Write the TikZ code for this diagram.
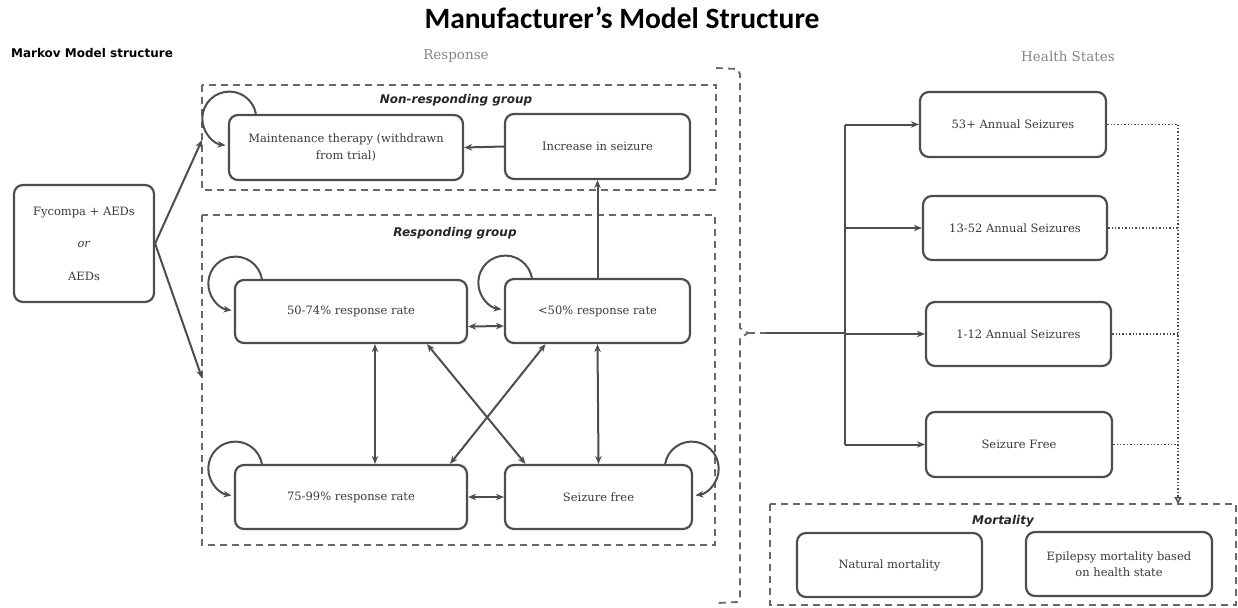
\documentclass[tikz,border=0pt]{standalone}
\usepackage{fontspec}
\setmainfont{DejaVu Serif}
\setsansfont{DejaVu Sans}
\newfontfamily\titlefont{Carlito}
\usetikzlibrary{arrows.meta}
\definecolor{linegray}{HTML}{4D4D4D}
\definecolor{textgray}{HTML}{3A3A3A}
\definecolor{headgray}{HTML}{858585}

\begin{document}
\begin{tikzpicture}[x=1pt,y=1pt,
    state/.style={draw=linegray,line width=2.2pt,rounded corners=9pt,align=center,
        text=textgray,font=\fontsize{11.5}{16.5}\selectfont,inner sep=2pt},
    grp/.style={draw=linegray!85,line width=1.8pt,dash pattern=on 7pt off 5pt},
    grplabel/.style={font=\sffamily\bfseries\itshape\fontsize{12}{14}\selectfont,text=black!85},
    head/.style={font=\fontsize{13.5}{16}\selectfont,text=headgray},
    link/.style={draw=linegray,line width=2pt},
    conn/.style={link,-{Stealth[length=8pt,width=6.5pt]}},
    both/.style={link,{Stealth[length=8pt,width=6.5pt]}-{Stealth[length=8pt,width=6.5pt]}},
    dotline/.style={draw=linegray,line width=1.4pt,dotted}]
    \useasboundingbox (0,0) rectangle (1238,-607);

    % headings
    \node[font=\titlefont\bfseries\fontsize{29.5}{34}\selectfont] (title) at (622,-18) {Manufacturer’s Model Structure};
    \node[font=\sffamily\bfseries\fontsize{12}{14}\selectfont] (markov) at (92,-53) {Markov Model structure};
    \node[head] (resp) at (456,-56) {Response};
    \node[head] (hs) at (1068,-56) {Health States};

    % groups
    \draw[grp] (202,-85) rectangle (716,-190);
    \draw[grp] (202,-215) rectangle (715,-545);
    \draw[grp] (770,-504) rectangle (1236,-605);
    \node[grplabel] (nonlbl) at (456,-100) {Non-responding group};
    \node[grplabel] (reslbl) at (455,-233) {Responding group};
    \node[grplabel] (mortlbl) at (1003,-521) {Mortality};

    % states
    \node[state,minimum width=140pt,minimum height=117pt,font=\fontsize{11.5}{32.5}\selectfont] (start) at (84,-243.5)
        {Fycompa + AEDs\\ \textit{or}\\ AEDs};
    \node[state,minimum width=234pt,minimum height=65pt] (maint) at (346,-147.5)
        {Maintenance therapy (withdrawn\\ from trial)};
    \node[state,minimum width=185pt,minimum height=65pt] (inc) at (597.5,-146.5) {Increase in seizure};
    \node[state,minimum width=232pt,minimum height=63pt] (mid) at (351,-311.5) {50-74\% response rate};
    \node[state,minimum width=185pt,minimum height=64pt] (low) at (597.5,-311) {<50\% response rate};
    \node[state,minimum width=232pt,minimum height=64pt] (high) at (351,-497) {75-99\% response rate};
    \node[state,minimum width=187pt,minimum height=64pt] (free) at (598.5,-497) {Seizure free};

    \node[state,minimum width=186pt,minimum height=65pt] (h53) at (1013,-124.5) {53+ Annual Seizures};
    \node[state,minimum width=184pt,minimum height=64pt] (h13) at (1015,-228) {13-52 Annual Seizures};
    \node[state,minimum width=185pt,minimum height=64pt] (h1) at (1018.5,-334) {1-12 Annual Seizures};
    \node[state,minimum width=186pt,minimum height=65pt] (h0) at (1019,-444.5) {Seizure Free};
    \node[state,minimum width=185pt,minimum height=64pt] (nat) at (889.5,-565) {Natural mortality};
    \node[state,minimum width=186pt,minimum height=64pt] (epi) at (1119,-564) {Epilepsy mortality based\\ on health state};

    % entry arrows
    \coordinate (toNon) at (202,-140);
    \coordinate (toRes) at (202,-378);
    \draw[conn] (start.east) -- (toNon);
    \draw[conn] (start.east) -- (toRes);

    % self loops
    \foreach \s in {maint,mid,low,high}
        \draw[conn] ([xshift=28pt]\s.north west) arc[start angle=10,end angle=262,radius=27pt];
    \draw[conn] ([xshift=-28pt]free.north east) arc[start angle=170,end angle=-82,radius=27pt];

    % transitions
    \draw[conn] (inc.west) -- (maint.east);
    \draw[conn] (low.north) -- (inc.south);
    \draw[both] ([yshift=-15pt]mid.east) -- ([yshift=-15pt]low.west);
    \draw[both] (high.east) -- (free.west);
    \draw[both] ([xshift=24pt]mid.south) -- ([xshift=24pt]high.north);
    \draw[both] (low.south) -- (free.north);
    \draw[both] ([xshift=76pt]mid.south) -- ([xshift=-73pt]free.north);
    \draw[both] ([xshift=-52pt]low.south) -- ([xshift=99pt]high.north);

    % brace round the response part
    \coordinate (tip) at (748,-333);
    \draw[grp] (716,-68) -- (737,-69) -- (740,-74) -- (740,-328) -- (tip) -- (740,-338) -- (740,-598) -- (737,-602) -- (718,-603);
    \draw[grp] (tip) -- (766,-333);
    \coordinate (trunk) at (845,-333);
    \draw[link] (766,-333) -- (trunk);
    \draw[link] (trunk |- h53.west) -- (trunk |- h0.west);
    \foreach \h in {h53,h13,h1,h0}
        \draw[conn] (trunk |- \h.west) -- (\h.west);

    % to mortality
    \coordinate (drop) at (1178,-504);
    \foreach \h in {h53,h13,h1,h0}
        \draw[dotline] (\h.east) -- (drop |- \h.east);
    \draw[dotline,-{Triangle[open,length=7pt,width=7pt]}] (drop |- h53.east) -- (drop);
\end{tikzpicture}
\end{document}
